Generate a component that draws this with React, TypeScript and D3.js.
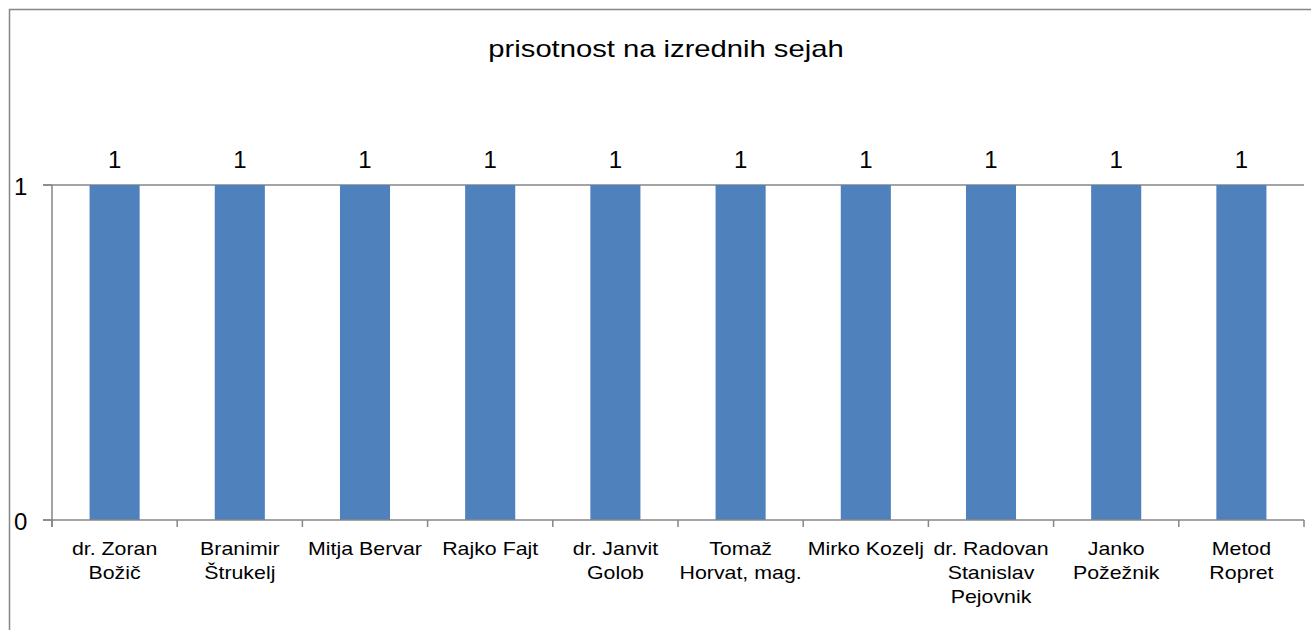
import React from 'react';
import * as d3 from 'd3';

// category labels (line breaks as in the original chart)
const names = [
  'dr. Zoran\nBožič',
  'Branimir\nŠtrukelj',
  'Mitja Bervar',
  'Rajko Fajt',
  'dr. Janvit\nGolob',
  'Tomaž\nHorvat, mag.',
  'Mirko Kozelj',
  'dr. Radovan\nStanislav\nPejovnik',
  'Janko\nPožežnik',
  'Metod\nRopret',
];
const attendance = [1, 1, 1, 1, 1, 1, 1, 1, 1, 1];
const yTicks = [0, 1];
const title = 'prisotnost na izrednih sejah';

const W = 1311;
const H = 630;
const margin = { top: 185, right: 7, bottom: 110, left: 52 };
const font = 'Arial, "Liberation Sans", sans-serif';
const axisColor = '#868686';
const barColor = '#4f81bd';
// the original picture is stretched horizontally
const SX = 1.22;

function Stretch({ x, y, sx = SX, size, anchor = 'middle', children }: any) {
  return (
    <text
      transform={`translate(${x},${y}) scale(${sx},1)`}
      textAnchor={anchor}
      fontSize={size}
      fill="#000"
    >
      {children}
    </text>
  );
}

export default function App() {
  const x = d3
    .scaleBand()
    .domain(names)
    .range([margin.left, W - margin.right])
    .paddingInner(0.6)
    .paddingOuter(0.3);
  const y = d3
    .scaleLinear()
    .domain([0, 1])
    .range([H - margin.bottom, margin.top]);
  const step = x.step();
  const x0 = margin.left;
  const x1 = W - margin.right;
  const cx = (n: string) => (x(n) as number) + x.bandwidth() / 2;

  return (
    <svg
      width={W}
      height={H}
      style={{ position: 'absolute', left: 0, top: 0, background: '#fff' }}
      fontFamily={font}
    >
      {/* chart frame */}
      <rect x={9.5} y={9.5} width={W + 10} height={H + 10} fill="#fff" stroke={axisColor} strokeWidth={1.5} />
      <Stretch x={666} y={57} size={23} sx={1.27}>
        {title}
      </Stretch>

      {/* gridline at 1 */}
      {yTicks.filter((t) => t > 0).map((t) => (
        <line key={t} x1={x0 - 9} x2={x1} y1={y(t)} y2={y(t)} stroke={axisColor} strokeWidth={1.5} />
      ))}

      {/* bars */}
      {attendance.map((v, i) => (
        <rect
          key={i}
          x={x(names[i])}
          y={y(v)}
          width={x.bandwidth()}
          height={y(0) - y(v)}
          fill={barColor}
        />
      ))}

      {/* value labels */}
      {attendance.map((v, i) => (
        <Stretch key={i} x={cx(names[i])} y={y(v) - 17} size={24} sx={1}>
          {v}
        </Stretch>
      ))}

      {/* y axis */}
      <line x1={x0} x2={x0} y1={y(1)} y2={y(0) + 7} stroke={axisColor} strokeWidth={1.5} />
      {yTicks.map((t) => (
        <g key={t}>
          <line x1={x0 - 9} x2={x0} y1={y(t)} y2={y(t)} stroke={axisColor} strokeWidth={1.5} />
          <Stretch x={14} y={y(t) + 10} size={24} sx={1} anchor="start">
            {t}
          </Stretch>
        </g>
      ))}

      {/* x axis */}
      <line x1={x0 - 9} x2={x1} y1={y(0)} y2={y(0)} stroke={axisColor} strokeWidth={1.5} />
      {d3.range(names.length + 1).map((i) => (
        <line
          key={i}
          x1={x0 + i * step}
          x2={x0 + i * step}
          y1={y(0)}
          y2={y(0) + 7}
          stroke={axisColor}
          strokeWidth={1.5}
        />
      ))}
      {names.map((n) => (
        <Stretch key={n} x={cx(n)} y={y(0) + 35} size={17.5}>
          {n.split('\n').map((line, j) => (
            <tspan key={j} x={0} dy={j === 0 ? 0 : 24}>
              {line}
            </tspan>
          ))}
        </Stretch>
      ))}
    </svg>
  );
}
